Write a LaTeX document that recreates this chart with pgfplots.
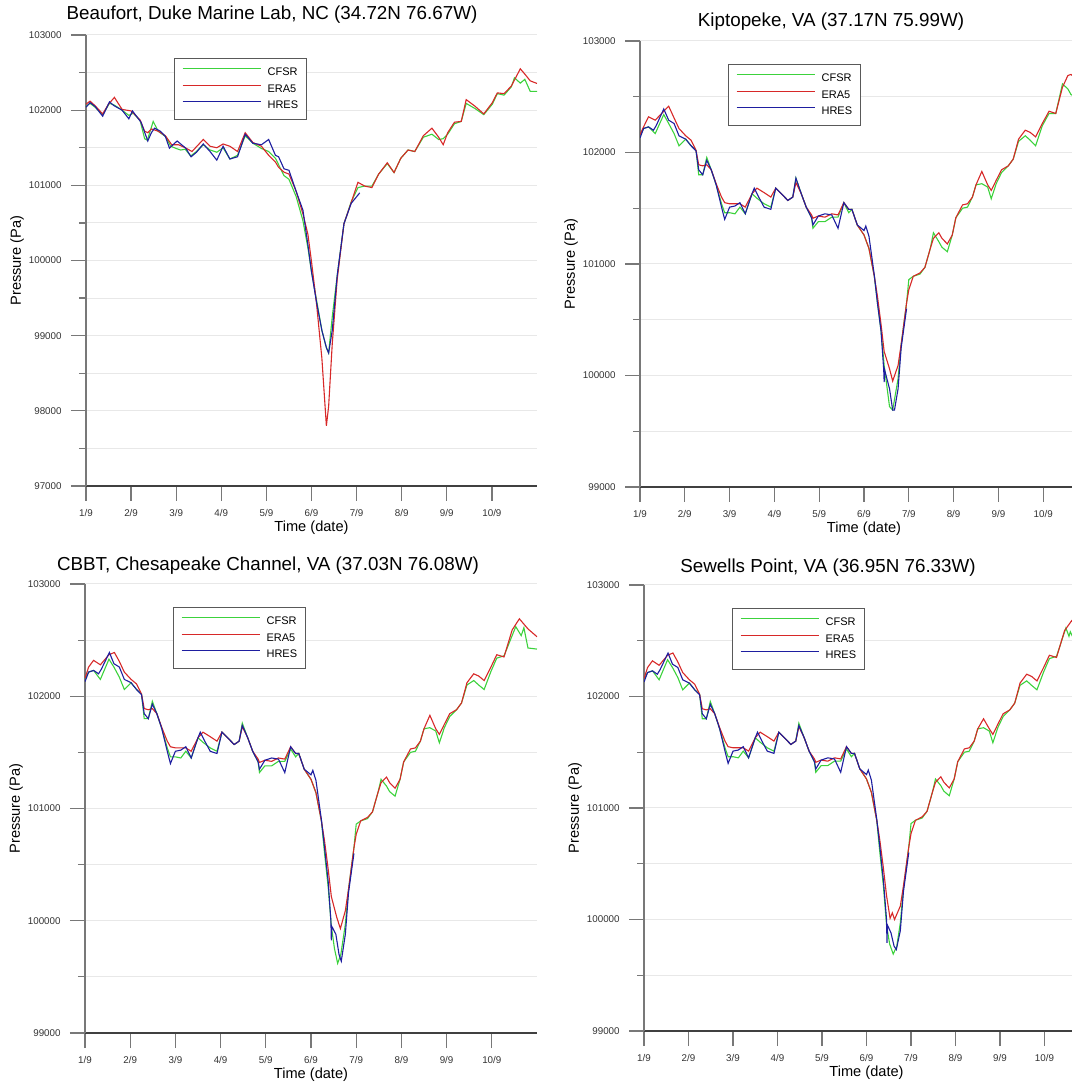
\documentclass[border=0pt]{standalone}
\usepackage{pgfplots}
\pgfplotsset{compat=1.18}
\usepackage{fontspec}
\setmainfont{Liberation Sans}
\definecolor{cfsr}{RGB}{60,210,60}
\definecolor{era}{RGB}{215,40,40}
\definecolor{hres}{RGB}{30,30,160}
\definecolor{axgray}{RGB}{120,120,120}
\definecolor{gridc}{RGB}{232,232,232}
\definecolor{lblc}{RGB}{50,50,50}
\pgfplotsset{
  Cimg/.style={legend image code/.code={\node[inner sep=0pt, text height=0.6pt, text depth=0pt, anchor=west] at (0pt,1.9pt) {\textcolor{cfsr}{\rule{39pt}{0.6pt}}};}},
  Eimg/.style={legend image code/.code={\node[inner sep=0pt, text height=0.6pt, text depth=0pt, anchor=west] at (0pt,1.9pt) {\textcolor{era}{\rule{39pt}{0.6pt}}};}},
  Himg/.style={legend image code/.code={\node[inner sep=0pt, text height=0.6pt, text depth=0pt, anchor=west] at (0pt,1.9pt) {\textcolor{hres}{\rule{39pt}{0.6pt}}};}},
  C/.style={draw=cfsr, line width=0.55pt, forget plot},
  E/.style={draw=era, line width=0.55pt, forget plot},
  H/.style={draw=hres, line width=0.55pt, forget plot},
  panel/.style={
    scale only axis, anchor=south west,
    axis x line*=bottom, axis y line*=left,
    xmin=1, xmax=11,
    xtick={1,2,3,4,5,6,7,8,9,10},
    xticklabels={1/9,2/9,3/9,4/9,5/9,6/9,7/9,8/9,9/9,10/9},
    ytick distance=1000, minor y tick num=1,
    ymajorgrids, yminorgrids,
    major grid style={gridc, line width=0.5pt},
    minor grid style={gridc, line width=0.5pt},
    tick align=outside,
    major tick length=7.5pt, minor tick length=3.5pt,
    tick style={axgray, line width=0.6pt},
    x axis line style={black!75, line width=0.6pt},
    y axis line style={axgray, line width=0.8pt},
    scaled y ticks=false,
    /pgf/number format/assume math mode=true,
    yticklabel style={/pgf/number format/fixed, /pgf/number format/precision=0, /pgf/number format/1000 sep={}, font=\fontsize{4.9}{5}\selectfont, text=lblc, anchor=east, inner sep=0pt, xshift=-4.5pt},
    xticklabel style={font=\fontsize{4.9}{5}\selectfont, text=lblc, anchor=center, inner sep=0pt},
    every x tick label/.append style={yshift=-6pt},
    title style={font=\fontsize{9.4}{11}\selectfont, anchor=center},
    xlabel={Time (date)}, ylabel={Pressure (Pa)},
    xlabel style={font=\fontsize{7.3}{8}\selectfont, anchor=center, at={([yshift=-20.8pt]axis description cs:0.5,0)}},
    ylabel style={font=\fontsize{7.3}{8}\selectfont, anchor=center, at={([xshift=-34.5pt]axis description cs:0,0.5)}},
    legend cell align=left,
    legend style={at={([xshift=44pt,yshift=-11.5pt]axis description cs:0,1)}, anchor=north west,
      draw=black!65, line width=0.6pt, fill=white,
      font=\fontsize{5.5}{6}\selectfont,
      inner xsep=4pt, inner ysep=4.5pt, row sep=3.25pt,
      nodes={inner sep=0pt, text height=4pt, text depth=1pt},
      /tikz/every odd column/.append style={column sep=3.5pt}},
  }
}
\newcommand{\threelegend}{\addlegendimage{Cimg}\addlegendentry{CFSR}\addlegendimage{Eimg}\addlegendentry{ERA5}\addlegendimage{Himg}\addlegendentry{HRES}}
\begin{document}
\begin{tikzpicture}
\useasboundingbox (0,0) rectangle (535.5pt,543pt);
% ---------------- Panel 1: Beaufort
\begin{axis}[panel, at={(43pt,300pt)}, width=225.5pt, height=225.5pt, ymin=97000, ymax=103000,
  title={Beaufort, Duke Marine Lab, NC (34.72N 76.67W)},
  title style={at={([xshift=93pt,yshift=4pt]axis description cs:0,1)}}]
\threelegend
\addplot[C] coordinates {(1.0,102050)(1.09,102090)(1.2,102040)(1.37,101940)(1.52,102090)(1.62,102070)(1.8,102000)(1.95,101930)(2.05,101960)(2.2,101860)(2.3,101620)(2.36,101600)(2.49,101850)(2.6,101720)(2.76,101650)(2.88,101520)(3.0,101490)(3.1,101470)(3.2,101480)(3.32,101390)(3.45,101450)(3.6,101540)(3.75,101470)(3.9,101440)(4.04,101500)(4.19,101350)(4.36,101400)(4.53,101660)(4.7,101560)(4.89,101490)(5.05,101450)(5.2,101360)(5.39,101130)(5.5,101080)(5.66,100850)(5.81,100530)(5.92,100170)(6.0,99850)(6.11,99480)(6.23,99070)(6.33,98840)(6.38,98770)(6.46,99250)(6.57,99800)(6.72,100490)(6.88,100780)(7.03,100970)(7.18,100990)(7.34,100990)(7.49,101150)(7.68,101290)(7.83,101170)(7.98,101360)(8.14,101470)(8.29,101450)(8.48,101640)(8.67,101680)(8.82,101610)(8.92,101620)(9.02,101680)(9.17,101820)(9.32,101850)(9.43,102090)(9.63,102020)(9.82,101940)(10.01,102080)(10.12,102220)(10.27,102200)(10.43,102310)(10.5,102430)(10.63,102360)(10.73,102410)(10.85,102250)(11.0,102250)};
\addplot[E] coordinates {(1.0,102080)(1.09,102120)(1.2,102060)(1.37,101950)(1.5,102080)(1.63,102170)(1.8,102010)(1.9,102000)(2.0,101990)(2.2,101870)(2.3,101720)(2.37,101700)(2.45,101750)(2.6,101720)(2.76,101660)(2.9,101540)(3.05,101540)(3.2,101500)(3.35,101450)(3.6,101610)(3.75,101520)(3.9,101500)(4.04,101550)(4.19,101520)(4.36,101450)(4.53,101700)(4.7,101570)(4.89,101520)(5.05,101400)(5.2,101310)(5.27,101240)(5.39,101175)(5.5,101150)(5.66,100920)(5.81,100620)(5.92,100350)(6.0,99985)(6.11,99435)(6.23,98700)(6.33,97800)(6.38,98060)(6.46,98890)(6.57,99750)(6.72,100490)(6.88,100770)(7.03,101040)(7.18,100990)(7.34,100970)(7.49,101150)(7.68,101300)(7.83,101170)(7.98,101360)(8.14,101470)(8.29,101450)(8.48,101660)(8.67,101760)(8.82,101640)(8.92,101540)(9.02,101700)(9.17,101840)(9.32,101850)(9.43,102140)(9.63,102050)(9.82,101950)(10.01,102100)(10.12,102230)(10.27,102220)(10.43,102320)(10.63,102550)(10.73,102480)(10.85,102390)(11.0,102355)};
\addplot[H] coordinates {(1.0,102040)(1.09,102100)(1.2,102050)(1.37,101920)(1.52,102110)(1.62,102060)(1.8,102000)(1.95,101885)(2.03,101990)(2.22,101840)(2.37,101590)(2.45,101700)(2.52,101760)(2.65,101720)(2.76,101650)(2.85,101495)(3.02,101590)(3.21,101495)(3.33,101380)(3.45,101440)(3.6,101550)(3.75,101450)(3.9,101335)(4.04,101520)(4.19,101350)(4.36,101380)(4.53,101680)(4.7,101560)(4.89,101540)(5.05,101610)(5.2,101400)(5.27,101380)(5.39,101220)(5.5,101200)(5.66,100920)(5.81,100670)(5.92,100210)(6.0,99850)(6.11,99450)(6.23,99070)(6.33,98840)(6.38,98770)(6.46,99070)(6.57,99800)(6.72,100490)(6.88,100760)(7.07,100900)};
\end{axis}
% ---------------- Panel 2: Kiptopeke
\begin{axis}[panel, at={(320pt,299.5pt)}, width=224pt, height=223pt, ymin=99000, ymax=103000,
  title={Kiptopeke, VA (37.17N 75.99W)},
  title style={at={([xshift=95.5pt,yshift=3.5pt]axis description cs:0,1)}}]
\threelegend
\addplot[C] coordinates {(1.0,102150)(1.08,102215)(1.19,102230)(1.34,102170)(1.53,102340)(1.64,102260)(1.76,102170)(1.87,102060)(2.02,102120)(2.14,102060)(2.25,102020)(2.31,101800)(2.4,101800)(2.49,101955)(2.59,101845)(2.7,101710)(2.82,101540)(2.89,101460)(3.0,101460)(3.12,101450)(3.23,101510)(3.35,101450)(3.5,101630)(3.61,101590)(3.77,101540)(3.92,101510)(4.03,101680)(4.18,101620)(4.3,101570)(4.41,101600)(4.48,101770)(4.6,101630)(4.71,101510)(4.83,101415)(4.86,101320)(4.98,101380)(5.13,101380)(5.28,101420)(5.42,101420)(5.55,101550)(5.66,101460)(5.73,101490)(5.85,101350)(6.0,101260)(6.11,101140)(6.23,100890)(6.3,100650)(6.38,100400)(6.45,100090)(6.57,99720)(6.64,99690)(6.76,99970)(6.83,100280)(6.95,100650)(7.0,100860)(7.1,100890)(7.25,100910)(7.36,100970)(7.48,101140)(7.55,101280)(7.67,101200)(7.74,101150)(7.86,101110)(7.97,101260)(8.05,101415)(8.2,101500)(8.31,101510)(8.42,101600)(8.5,101710)(8.63,101720)(8.76,101690)(8.84,101585)(8.95,101720)(9.07,101820)(9.22,101880)(9.33,101940)(9.45,102100)(9.6,102150)(9.71,102110)(9.83,102060)(9.98,102240)(10.13,102350)(10.28,102350)(10.43,102615)(10.55,102570)(10.62,102520)(10.8,102480)(11,102450)};
\addplot[E] coordinates {(1.0,102160)(1.08,102230)(1.19,102320)(1.34,102290)(1.53,102370)(1.64,102415)(1.76,102310)(1.87,102215)(2.02,102150)(2.14,102110)(2.25,102020)(2.31,101890)(2.4,101880)(2.49,101890)(2.59,101845)(2.7,101720)(2.82,101600)(2.89,101550)(3.0,101540)(3.12,101540)(3.23,101540)(3.35,101510)(3.5,101630)(3.61,101680)(3.77,101640)(3.92,101600)(4.03,101680)(4.18,101620)(4.3,101570)(4.41,101600)(4.48,101730)(4.6,101630)(4.71,101510)(4.83,101440)(4.86,101410)(4.98,101430)(5.13,101420)(5.28,101450)(5.42,101440)(5.55,101550)(5.66,101490)(5.73,101490)(5.85,101350)(6.0,101260)(6.11,101140)(6.23,100890)(6.3,100710)(6.38,100460)(6.45,100215)(6.57,100060)(6.64,99950)(6.76,100090)(6.83,100280)(6.95,100650)(7.0,100770)(7.1,100890)(7.25,100920)(7.36,100970)(7.48,101140)(7.55,101230)(7.67,101280)(7.74,101230)(7.86,101180)(7.97,101260)(8.05,101415)(8.2,101530)(8.31,101540)(8.42,101600)(8.5,101710)(8.63,101830)(8.76,101710)(8.84,101660)(8.95,101750)(9.07,101845)(9.22,101880)(9.33,101940)(9.45,102120)(9.6,102200)(9.71,102180)(9.83,102140)(9.98,102260)(10.13,102370)(10.28,102350)(10.43,102585)(10.55,102690)(10.62,102700)(10.8,102640)(11,102600)};
\addplot[H] coordinates {(1.0,102130)(1.08,102215)(1.19,102230)(1.3,102200)(1.36,102240)(1.53,102390)(1.64,102290)(1.76,102260)(1.87,102150)(2.02,102120)(2.14,102060)(2.25,102015)(2.31,101845)(2.4,101800)(2.49,101930)(2.59,101845)(2.7,101710)(2.82,101510)(2.89,101400)(3.0,101510)(3.12,101520)(3.23,101550)(3.35,101450)(3.5,101630)(3.55,101680)(3.65,101600)(3.77,101510)(3.92,101490)(4.03,101680)(4.18,101620)(4.3,101570)(4.41,101600)(4.48,101770)(4.6,101630)(4.71,101510)(4.83,101415)(4.86,101350)(4.98,101430)(5.13,101450)(5.28,101440)(5.42,101320)(5.55,101550)(5.66,101490)(5.73,101490)(5.85,101350)(6.0,101300)(6.04,101340)(6.11,101250)(6.23,100900)(6.3,100650)(6.38,100400)(6.44,100050)(6.45,99940)(6.46,100050)(6.57,99880)(6.64,99690)(6.68,99690)(6.76,99880)(6.83,100250)(6.95,100600)};
\end{axis}
% ---------------- Panel 3: CBBT
\begin{axis}[panel, at={(42.5pt,26.5pt)}, width=226pt, height=224.5pt, ymin=99000, ymax=103000,
  title={CBBT, Chesapeake Channel, VA (37.03N 76.08W)},
  title style={at={([xshift=91.5pt,yshift=3pt]axis description cs:0,1)}}]
\threelegend
\addplot[C] coordinates {(1.0,102150)(1.08,102215)(1.19,102230)(1.34,102150)(1.53,102330)(1.64,102260)(1.76,102170)(1.87,102060)(2.02,102120)(2.14,102060)(2.25,102020)(2.31,101800)(2.4,101800)(2.49,101955)(2.59,101845)(2.7,101710)(2.82,101540)(2.89,101460)(3.0,101460)(3.12,101450)(3.23,101510)(3.35,101450)(3.5,101630)(3.61,101590)(3.77,101540)(3.92,101510)(4.03,101680)(4.18,101620)(4.3,101570)(4.41,101600)(4.48,101760)(4.6,101630)(4.71,101510)(4.83,101415)(4.86,101320)(4.98,101380)(5.13,101380)(5.28,101420)(5.42,101420)(5.55,101530)(5.66,101460)(5.73,101490)(5.85,101350)(6.0,101260)(6.11,101140)(6.23,100890)(6.3,100600)(6.38,100300)(6.45,99950)(6.52,99750)(6.59,99620)(6.66,99700)(6.76,99970)(6.83,100280)(6.95,100650)(7.0,100860)(7.1,100890)(7.25,100910)(7.36,100970)(7.48,101140)(7.55,101260)(7.67,101200)(7.74,101150)(7.86,101110)(7.97,101260)(8.05,101415)(8.2,101500)(8.31,101510)(8.42,101600)(8.5,101710)(8.63,101720)(8.76,101690)(8.84,101585)(8.95,101720)(9.07,101820)(9.22,101880)(9.33,101940)(9.45,102100)(9.6,102140)(9.71,102100)(9.83,102060)(9.98,102220)(10.11,102340)(10.27,102360)(10.53,102620)(10.65,102540)(10.71,102610)(10.8,102430)(11,102420)};
\addplot[E] coordinates {(1.0,102160)(1.08,102260)(1.19,102320)(1.34,102280)(1.53,102370)(1.65,102390)(1.76,102310)(1.87,102215)(2.02,102150)(2.14,102110)(2.25,102020)(2.31,101890)(2.4,101880)(2.49,101890)(2.59,101845)(2.7,101720)(2.82,101600)(2.89,101550)(3.0,101540)(3.12,101540)(3.23,101540)(3.35,101510)(3.5,101630)(3.61,101680)(3.77,101640)(3.92,101600)(4.03,101680)(4.18,101620)(4.3,101570)(4.41,101600)(4.48,101730)(4.6,101630)(4.71,101510)(4.83,101440)(4.86,101410)(4.98,101430)(5.13,101420)(5.28,101450)(5.42,101440)(5.55,101550)(5.66,101490)(5.73,101490)(5.85,101350)(6.0,101260)(6.11,101140)(6.23,100890)(6.3,100710)(6.38,100460)(6.45,100215)(6.57,100030)(6.65,99930)(6.76,100090)(6.83,100280)(6.95,100650)(7.0,100770)(7.1,100890)(7.25,100920)(7.36,100970)(7.48,101140)(7.55,101230)(7.67,101280)(7.74,101230)(7.86,101180)(7.97,101260)(8.05,101415)(8.2,101530)(8.31,101540)(8.42,101600)(8.5,101710)(8.63,101830)(8.76,101710)(8.84,101660)(8.95,101750)(9.07,101845)(9.22,101880)(9.33,101940)(9.45,102120)(9.6,102200)(9.71,102180)(9.83,102140)(9.98,102260)(10.11,102370)(10.27,102350)(10.45,102590)(10.61,102690)(10.8,102600)(11,102530)};
\addplot[H] coordinates {(1.0,102130)(1.08,102215)(1.19,102230)(1.3,102200)(1.36,102240)(1.54,102390)(1.64,102290)(1.76,102260)(1.87,102150)(2.02,102120)(2.14,102060)(2.25,102015)(2.31,101845)(2.4,101800)(2.49,101930)(2.59,101845)(2.7,101710)(2.82,101510)(2.89,101400)(3.0,101510)(3.12,101520)(3.23,101550)(3.35,101450)(3.5,101630)(3.55,101680)(3.65,101600)(3.77,101510)(3.92,101490)(4.03,101680)(4.18,101620)(4.3,101570)(4.41,101600)(4.48,101740)(4.6,101630)(4.71,101510)(4.83,101415)(4.86,101350)(4.98,101430)(5.13,101450)(5.28,101440)(5.42,101320)(5.55,101550)(5.66,101490)(5.73,101490)(5.85,101350)(6.0,101300)(6.04,101340)(6.11,101250)(6.23,100900)(6.3,100650)(6.38,100350)(6.44,100000)(6.45,99825)(6.46,99950)(6.55,99880)(6.62,99700)(6.67,99640)(6.76,99880)(6.83,100250)(6.95,100600)};
\end{axis}
% ---------------- Panel 4: Sewells Point
\begin{axis}[panel, at={(322pt,27.5pt)}, width=222.5pt, height=223pt, ymin=99000, ymax=103000,
  title={Sewells Point, VA (36.95N 76.33W)},
  title style={at={([xshift=92pt,yshift=2.5pt]axis description cs:0,1)}}]
\threelegend
\addplot[C] coordinates {(1.0,102150)(1.08,102215)(1.19,102230)(1.34,102150)(1.53,102330)(1.64,102260)(1.76,102170)(1.87,102060)(2.02,102120)(2.14,102060)(2.25,102020)(2.31,101800)(2.4,101800)(2.49,101955)(2.59,101845)(2.7,101710)(2.82,101540)(2.89,101460)(3.0,101460)(3.12,101450)(3.23,101510)(3.35,101450)(3.5,101630)(3.61,101590)(3.77,101540)(3.92,101510)(4.03,101680)(4.18,101620)(4.3,101570)(4.41,101600)(4.48,101760)(4.6,101630)(4.71,101510)(4.83,101415)(4.86,101320)(4.98,101380)(5.13,101380)(5.28,101420)(5.42,101420)(5.55,101530)(5.66,101460)(5.73,101490)(5.85,101350)(6.0,101260)(6.11,101140)(6.23,100890)(6.3,100600)(6.38,100300)(6.45,99950)(6.52,99780)(6.6,99690)(6.68,99760)(6.76,99970)(6.83,100280)(6.95,100650)(7.0,100860)(7.1,100890)(7.25,100910)(7.36,100970)(7.48,101140)(7.55,101260)(7.67,101200)(7.74,101150)(7.86,101110)(7.97,101260)(8.05,101415)(8.2,101500)(8.31,101510)(8.42,101600)(8.5,101710)(8.63,101720)(8.76,101690)(8.84,101585)(8.95,101720)(9.07,101820)(9.22,101880)(9.33,101940)(9.45,102100)(9.6,102140)(9.71,102100)(9.83,102060)(9.98,102220)(10.11,102340)(10.27,102360)(10.48,102615)(10.55,102540)(10.58,102580)(10.7,102480)(10.83,102410)(11,102400)};
\addplot[E] coordinates {(1.0,102160)(1.08,102260)(1.19,102320)(1.34,102280)(1.53,102370)(1.65,102390)(1.76,102310)(1.87,102215)(2.02,102150)(2.14,102110)(2.25,102020)(2.31,101890)(2.4,101880)(2.49,101890)(2.59,101845)(2.7,101720)(2.82,101600)(2.89,101550)(3.0,101540)(3.12,101540)(3.23,101540)(3.35,101510)(3.5,101630)(3.61,101680)(3.77,101640)(3.92,101600)(4.03,101680)(4.18,101620)(4.3,101570)(4.41,101600)(4.48,101730)(4.6,101630)(4.71,101510)(4.83,101440)(4.86,101410)(4.98,101430)(5.13,101420)(5.28,101450)(5.42,101440)(5.55,101550)(5.66,101490)(5.73,101490)(5.85,101350)(6.0,101260)(6.11,101140)(6.23,100890)(6.3,100710)(6.38,100460)(6.45,100215)(6.53,100010)(6.58,100060)(6.63,100000)(6.76,100120)(6.83,100300)(6.95,100650)(7.0,100770)(7.1,100890)(7.25,100920)(7.36,100970)(7.48,101140)(7.55,101230)(7.67,101280)(7.74,101230)(7.86,101180)(7.97,101260)(8.05,101415)(8.2,101530)(8.31,101540)(8.42,101600)(8.5,101710)(8.63,101800)(8.76,101710)(8.84,101660)(8.95,101750)(9.07,101845)(9.22,101880)(9.33,101940)(9.45,102120)(9.6,102200)(9.71,102180)(9.83,102140)(9.98,102260)(10.11,102370)(10.27,102350)(10.45,102590)(10.61,102680)(10.8,102600)(11,102550)};
\addplot[H] coordinates {(1.0,102130)(1.08,102215)(1.19,102230)(1.3,102200)(1.36,102240)(1.54,102390)(1.64,102290)(1.76,102260)(1.87,102150)(2.02,102120)(2.14,102060)(2.25,102015)(2.31,101845)(2.4,101800)(2.49,101930)(2.59,101845)(2.7,101710)(2.82,101510)(2.89,101400)(3.0,101510)(3.12,101520)(3.23,101550)(3.35,101450)(3.5,101630)(3.55,101680)(3.65,101600)(3.77,101510)(3.92,101490)(4.03,101680)(4.18,101620)(4.3,101570)(4.41,101600)(4.48,101740)(4.6,101630)(4.71,101510)(4.83,101415)(4.86,101350)(4.98,101430)(5.13,101450)(5.28,101440)(5.42,101320)(5.55,101550)(5.66,101490)(5.73,101490)(5.85,101350)(6.0,101300)(6.04,101340)(6.11,101250)(6.23,100900)(6.3,100650)(6.38,100350)(6.45,100000)(6.46,99790)(6.47,99950)(6.55,99880)(6.62,99760)(6.67,99730)(6.76,99900)(6.83,100250)(6.95,100600)};
\end{axis}
\end{tikzpicture}
\end{document}
